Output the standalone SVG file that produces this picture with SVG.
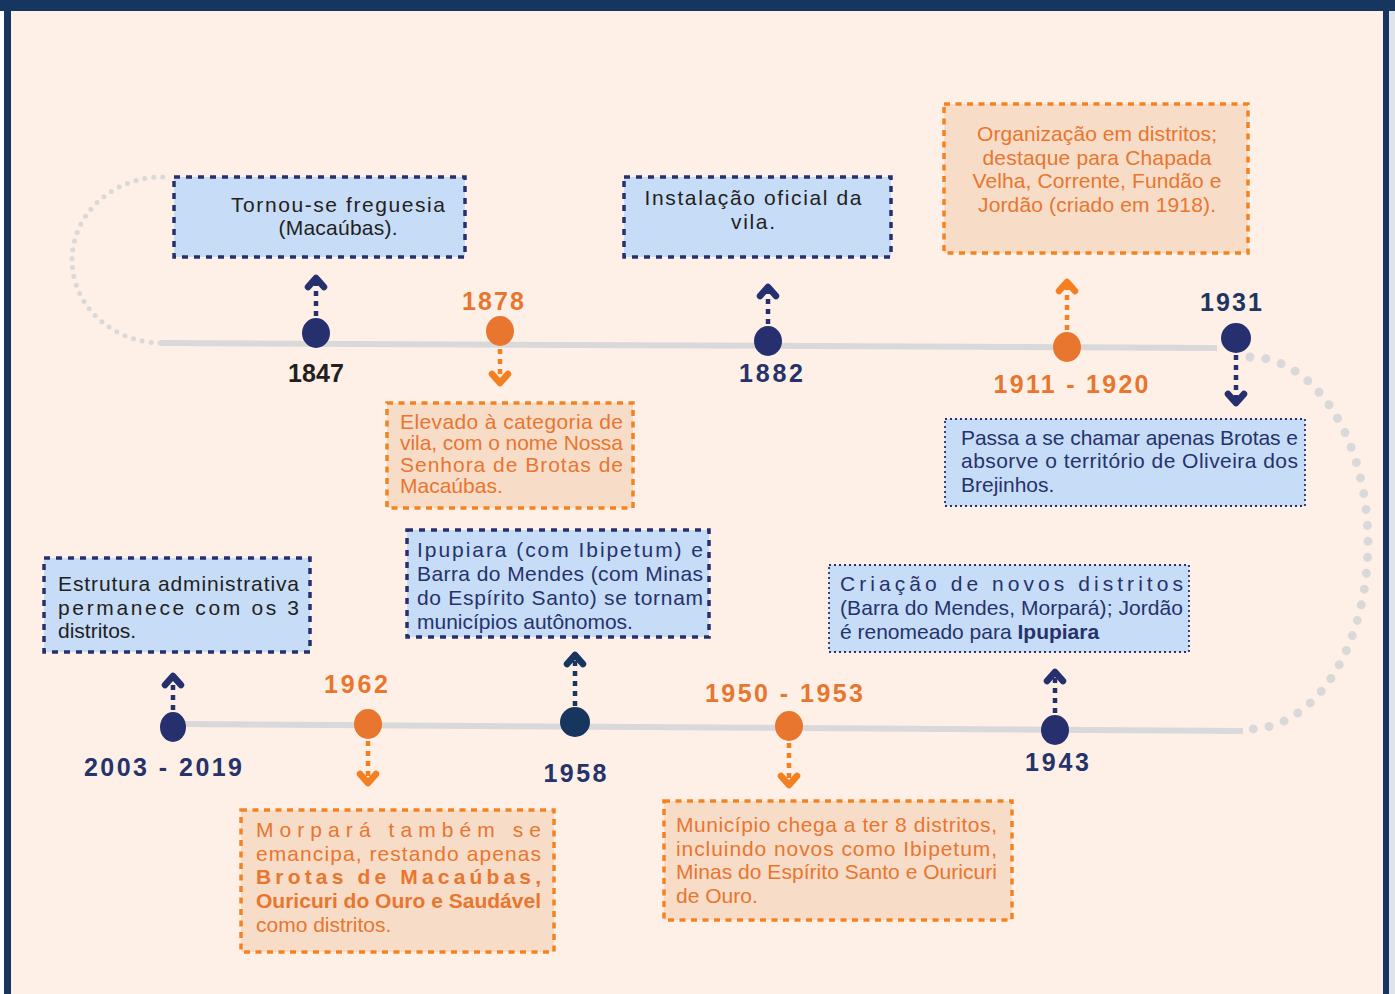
<svg xmlns="http://www.w3.org/2000/svg" width="1395" height="994" viewBox="0 0 1395 994">
<style>
text{font-family:"Liberation Sans",Arial,sans-serif;}
.bt{font-size:21px;}
.ink{fill:#231f20;}
.nv{fill:#26336b;}
.or{fill:#e8762e;}
.yr{font-size:25px;font-weight:bold;text-anchor:middle;}
.boxN{fill:#c6dcf7;stroke:#27306e;stroke-width:3.5;stroke-dasharray:6 6;}
.boxO{fill:#f7dcc8;stroke:#f58220;stroke-width:3.5;stroke-dasharray:6 5.5;}
.boxT{fill:#c6dcf7;stroke:#27306e;stroke-width:1.8;stroke-dasharray:2 3;}
.tl{fill:none;stroke:#d9d9d9;stroke-width:6;}
.arcS{fill:none;stroke:#d9d9d9;stroke-width:5;stroke-linecap:round;stroke-dasharray:0 9;}
.arcL{fill:none;stroke:#d9d9d9;stroke-width:9;stroke-linecap:round;stroke-dasharray:0 16;}
.arN{stroke:#27306e;stroke-width:4.5;stroke-dasharray:5 5;marker-end:url(#chN);}
.arD{stroke:#16355f;stroke-width:4.5;stroke-dasharray:5 5;marker-end:url(#chD);}
.arO{stroke:#f47f20;stroke-width:4.5;stroke-dasharray:5 5;marker-end:url(#chO);}
.dN{fill:#27306e;}
.dD{fill:#16355f;}
.dO{fill:#e8762e;}
</style>
<defs>
<marker id="chN" markerUnits="userSpaceOnUse" markerWidth="30" markerHeight="30" viewBox="0 0 30 30" refX="15" refY="15" orient="auto" overflow="visible"><path d="M6 7 L15 15 L6 23" fill="none" stroke="#27306e" stroke-width="6.5" stroke-linecap="round" stroke-linejoin="round"/></marker>
<marker id="chD" markerUnits="userSpaceOnUse" markerWidth="30" markerHeight="30" viewBox="0 0 30 30" refX="15" refY="15" orient="auto" overflow="visible"><path d="M6 7 L15 15 L6 23" fill="none" stroke="#16355f" stroke-width="6.5" stroke-linecap="round" stroke-linejoin="round"/></marker>
<marker id="chO" markerUnits="userSpaceOnUse" markerWidth="30" markerHeight="30" viewBox="0 0 30 30" refX="15" refY="15" orient="auto" overflow="visible"><path d="M6 7 L15 15 L6 23" fill="none" stroke="#f47f20" stroke-width="6.5" stroke-linecap="round" stroke-linejoin="round"/></marker>
</defs>

<g id="frame">
<rect x="0" y="0" width="1395" height="994" fill="#fef0e6"/>
<rect x="0" y="0" width="4" height="994" fill="#ffffff"/>
<rect x="1389" y="0" width="6" height="994" fill="#dfe3ea"/>
<rect x="0" y="0" width="1395" height="11" fill="#16365f"/>
<rect x="4" y="0" width="7" height="994" fill="#16365f"/>
<rect x="1383" y="0" width="6" height="994" fill="#16365f"/>
</g>

<g id="connectors">
<path class="tl" d="M160 343 L1217 348"/>
<path class="tl" d="M173 724 L1243 731"/>
<path class="arcS" d="M160 343 A90 83 0 0 1 164 177"/>
<path class="arcL" d="M1250 357 A118 186 0 0 1 1250 729"/>
<line class="arN" x1="316" y1="316" x2="316" y2="278"/>
<line class="arO" x1="500" y1="349" x2="500" y2="383"/>
<line class="arN" x1="768" y1="324" x2="768" y2="287"/>
<line class="arO" x1="1067" y1="330" x2="1067" y2="282"/>
<line class="arN" x1="1236" y1="355" x2="1236" y2="403"/>
<line class="arN" x1="173" y1="710" x2="173" y2="676"/>
<line class="arO" x1="368" y1="741" x2="368" y2="783"/>
<line class="arD" x1="575" y1="706" x2="575" y2="655"/>
<line class="arO" x1="789" y1="743" x2="789" y2="785"/>
<line class="arN" x1="1055" y1="713" x2="1055" y2="672"/>
</g>

<g id="n1847">
<rect class="boxN" x="174" y="177" width="291" height="80"/>
<text class="bt ink" x="338" y="212" text-anchor="middle" textLength="214" lengthAdjust="spacing">Tornou-se freguesia</text>
<text class="bt ink" x="338" y="235" text-anchor="middle" textLength="119" lengthAdjust="spacing">(Macaúbas).</text>
<ellipse class="dN" cx="316" cy="333" rx="14" ry="15"/>
<text class="yr ink" x="316" y="382" textLength="56">1847</text>
</g>

<g id="n1878">
<rect class="boxO" x="387" y="403" width="246" height="105"/>
<text class="bt or" x="400" y="429" textLength="223" lengthAdjust="spacing">Elevado à categoria de</text>
<text class="bt or" x="400" y="450" textLength="223" lengthAdjust="spacing">vila, com o nome Nossa</text>
<text class="bt or" x="400" y="472" textLength="223" lengthAdjust="spacing">Senhora de Brotas de</text>
<text class="bt or" x="400" y="493">Macaúbas.</text>
<ellipse class="dO" cx="500" cy="331" rx="14" ry="15"/>
<text class="yr or" x="493" y="310" textLength="62">1878</text>
</g>

<g id="n1882">
<rect class="boxN" x="624" y="177" width="267" height="80"/>
<text class="bt ink" x="753" y="205" text-anchor="middle" textLength="217" lengthAdjust="spacing">Instalação oficial da</text>
<text class="bt ink" x="753" y="229" text-anchor="middle" textLength="44" lengthAdjust="spacing">vila.</text>
<ellipse class="dN" cx="768" cy="341" rx="14" ry="15"/>
<text class="yr nv" x="771" y="382" textLength="64">1882</text>
</g>

<g id="n1911">
<rect class="boxO" x="944" y="104" width="304" height="149"/>
<text class="bt or" x="1097" y="141" text-anchor="middle" textLength="240" lengthAdjust="spacing">Organização em distritos;</text>
<text class="bt or" x="1097" y="165" text-anchor="middle" textLength="229" lengthAdjust="spacing">destaque para Chapada</text>
<text class="bt or" x="1097" y="188" text-anchor="middle" textLength="249" lengthAdjust="spacing">Velha, Corrente, Fundão e</text>
<text class="bt or" x="1097" y="212" text-anchor="middle" textLength="238" lengthAdjust="spacing">Jordão (criado em 1918).</text>
<ellipse class="dO" cx="1067" cy="347" rx="14" ry="15"/>
<text class="yr or" x="1071" y="393" textLength="155">1911 - 1920</text>
</g>

<g id="n1931">
<rect class="boxT" x="945" y="419" width="360" height="87"/>
<text class="bt nv" x="961" y="445" textLength="337" lengthAdjust="spacing">Passa a se chamar apenas Brotas e</text>
<text class="bt nv" x="961" y="468" textLength="337" lengthAdjust="spacing">absorve o território de Oliveira dos</text>
<text class="bt nv" x="961" y="492">Brejinhos.</text>
<ellipse class="dN" cx="1236" cy="338" rx="15" ry="15"/>
<text class="yr" x="1231" y="311" textLength="62" fill="#1d3563">1931</text>
</g>

<g id="n1943">
<rect class="boxT" x="829" y="565" width="360" height="87"/>
<text class="bt nv" x="840" y="591" textLength="343" lengthAdjust="spacing">Criação de novos distritos</text>
<text class="bt nv" x="840" y="615" textLength="343" lengthAdjust="spacing">(Barra do Mendes, Morpará); Jordão</text>
<text class="bt nv" x="840" y="639">é renomeado para <tspan font-weight="bold">Ipupiara</tspan></text>
<ellipse class="dN" cx="1055" cy="730" rx="14" ry="15"/>
<text class="yr nv" x="1057" y="771" textLength="64">1943</text>
</g>

<g id="n1950">
<rect class="boxO" x="664" y="801" width="348" height="119"/>
<text class="bt or" x="676" y="832" textLength="321" lengthAdjust="spacing">Município chega a ter 8 distritos,</text>
<text class="bt or" x="676" y="856" textLength="321" lengthAdjust="spacing">incluindo novos como Ibipetum,</text>
<text class="bt or" x="676" y="879" textLength="321" lengthAdjust="spacing">Minas do Espírito Santo e Ouricuri</text>
<text class="bt or" x="676" y="903">de Ouro.</text>
<ellipse class="dO" cx="789" cy="726" rx="14" ry="15"/>
<text class="yr or" x="784" y="702" textLength="158">1950 - 1953</text>
</g>

<g id="n1958">
<rect class="boxN" x="407" y="530" width="302" height="107"/>
<text class="bt nv" x="417" y="557" textLength="286" lengthAdjust="spacing">Ipupiara (com Ibipetum) e</text>
<text class="bt nv" x="417" y="581" textLength="286" lengthAdjust="spacing">Barra do Mendes (com Minas</text>
<text class="bt nv" x="417" y="605" textLength="286" lengthAdjust="spacing">do Espírito Santo) se tornam</text>
<text class="bt nv" x="417" y="629">municípios autônomos.</text>
<ellipse class="dD" cx="575" cy="722" rx="15" ry="15"/>
<text class="yr nv" x="575" y="782" textLength="63">1958</text>
</g>

<g id="n1962">
<rect class="boxO" x="241" y="810" width="313" height="142"/>
<text class="bt or" x="256" y="837" textLength="285" lengthAdjust="spacing">Morpará também se</text>
<text class="bt or" x="256" y="861" textLength="285" lengthAdjust="spacing">emancipa, restando apenas</text>
<text class="bt or" x="256" y="884" font-weight="bold" textLength="285" lengthAdjust="spacing">Brotas de Macaúbas,</text>
<text class="bt or" x="256" y="908" font-weight="bold" textLength="285" lengthAdjust="spacingAndGlyphs">Ouricuri do Ouro e Saudável</text>
<text class="bt or" x="256" y="932">como distritos.</text>
<ellipse class="dO" cx="368" cy="724" rx="14" ry="15"/>
<text class="yr or" x="356" y="693" textLength="64">1962</text>
</g>

<g id="n2003">
<rect class="boxN" x="44" y="558" width="266" height="94"/>
<text class="bt ink" x="58" y="591" textLength="241" lengthAdjust="spacing">Estrutura administrativa</text>
<text class="bt ink" x="58" y="615" textLength="241" lengthAdjust="spacing">permanece com os 3</text>
<text class="bt ink" x="58" y="638">distritos.</text>
<ellipse class="dN" cx="173" cy="727" rx="13" ry="15"/>
<text class="yr nv" x="163" y="776" textLength="158">2003 - 2019</text>
</g>
</svg>
